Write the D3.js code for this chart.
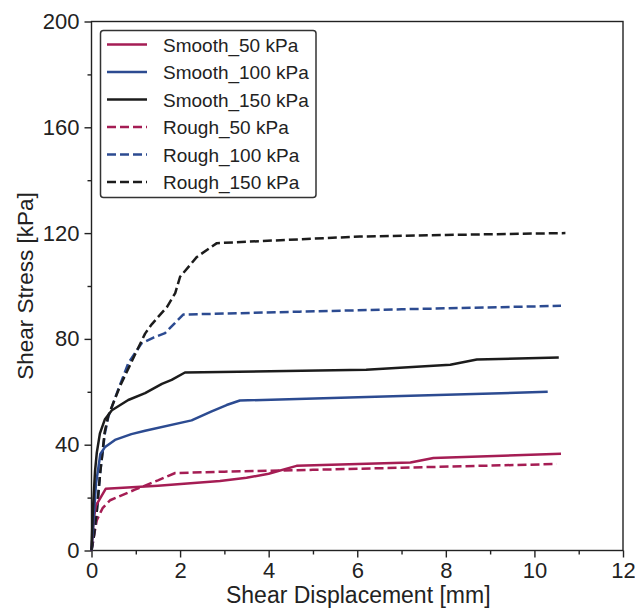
<!DOCTYPE html>
<html>
<head>
<meta charset="utf-8">
<script src="https://cdn.jsdelivr.net/npm/d3@7"></script>
<style>
  html, body { margin: 0; padding: 0; background: #fff; }
  svg { display: block; font-family: "Liberation Sans", Arial, sans-serif; }
</style>
</head>
<body>
<svg id="chart" width="635" height="612"></svg>
<script>
// ---- data ----
const seriesNames = ["Smooth_50 kPa", "Smooth_100 kPa", "Smooth_150 kPa", "Rough_50 kPa", "Rough_100 kPa", "Rough_150 kPa"];

const smooth50 = [[0,0],[0.05,12],[0.1,17],[0.32,23.3],[1.5,24.5],[2.9,26.3],[3.5,27.5],[4,29],[4.63,32],[7.2,33.3],[7.72,35],[10.6,36.6]];
const smooth100 = [[0,0],[0.04,10],[0.1,25],[0.2,36.5],[0.3,39],[0.53,41.8],[0.9,44],[1.21,45.3],[2.26,49.2],[2.7,52.5],[3.05,55],[3.35,56.7],[7,58.4],[10.3,60]];
const smooth150 = [[0,0],[0.03,15],[0.08,30],[0.12,37],[0.19,44.3],[0.3,49.5],[0.46,53],[0.83,56.9],[1.21,59.5],[1.59,63],[1.81,64.5],[2.11,67.3],[6.2,68.3],[8.1,70.2],[8.7,72.2],[10.55,73]];
const rough50 = [[0,0],[0.05,5],[0.12,11.5],[0.25,16],[0.42,19],[0.98,23],[1.5,26.5],[1.89,29.3],[3,29.8],[5,30.5],[7,31.3],[10.5,32.7]];
const rough100 = [[0,0],[0.05,5],[0.12,15],[0.2,30],[0.3,44],[0.38,50.6],[0.6,60.7],[0.83,70.8],[1.13,78.3],[1.4,80.5],[1.66,82.2],[2.07,89.2],[4.7,90.3],[7,91.2],[10.6,92.5]];
const rough150 = [[0,0],[0.05,5],[0.12,15],[0.2,30],[0.3,45],[0.38,51],[0.64,62],[0.98,74],[1.21,82],[1.36,85.5],[1.51,88.4],[1.71,92.2],[1.89,97.3],[2.0,103.5],[2.38,111],[2.83,116.2],[6.06,118.7],[8,119.3],[10.7,120]];

const xTicks = [0, 2, 4, 6, 8, 10, 12];
const yTicks = [0, 40, 80, 120, 160, 200];
const xMinor = [1, 3, 5, 7, 9, 11];
const yMinor = [20, 60, 100, 140, 180];

const xLabel = "Shear Displacement [mm]";
const yLabel = "Shear Stress [kPa]";

// ---- styles ----
const crimson = "#a51d54", blue = "#2c4b91", black = "#1c1c1c";
const series = [
  { name: seriesNames[0], data: smooth50, color: crimson, dash: null },
  { name: seriesNames[1], data: smooth100, color: blue, dash: null },
  { name: seriesNames[2], data: smooth150, color: black, dash: null },
  { name: seriesNames[3], data: rough50, color: crimson, dash: "9,4" },
  { name: seriesNames[4], data: rough100, color: blue, dash: "9,4" },
  { name: seriesNames[5], data: rough150, color: black, dash: "9,4" }
];

const svg = d3.select("#chart");
const L = 91.5, R = 623, T = 21.5, B = 550.5;
const x = d3.scaleLinear().domain([0, 12]).range([L, R]);
const y = d3.scaleLinear().domain([0, 200]).range([B, T]);

// frame
svg.append("rect").attr("x", L).attr("y", T).attr("width", R - L).attr("height", B - T)
  .attr("fill", "none").attr("stroke", "#222").attr("stroke-width", 1.4);

// axes
const xAxis = svg.append("g").attr("transform", `translate(0,${B})`)
  .call(d3.axisBottom(x).tickValues(xTicks).tickSize(7).tickPadding(5).tickFormat(d3.format("d")));
const xAxisMinor = svg.append("g").attr("transform", `translate(0,${B})`)
  .call(d3.axisBottom(x).tickValues(xMinor).tickSize(4).tickFormat(""));
const yAxis = svg.append("g").attr("transform", `translate(${L},0)`)
  .call(d3.axisLeft(y).tickValues(yTicks).tickSize(7).tickPadding(5).tickFormat(d3.format("d")));
const yAxisMinor = svg.append("g").attr("transform", `translate(${L},0)`)
  .call(d3.axisLeft(y).tickValues(yMinor).tickSize(4).tickFormat(""));
[xAxis, xAxisMinor, yAxis, yAxisMinor].forEach(g => {
  g.select(".domain").remove();
  g.selectAll(".tick line").attr("stroke", "#222").attr("stroke-width", 1.4);
  g.selectAll(".tick text").attr("fill", "#222").style("font-size", "22px")
    .style("font-family", "'Liberation Sans', Arial, sans-serif");
});

// axis titles
svg.append("text").attr("x", (L + R) / 2 + 1).attr("y", 603).attr("text-anchor", "middle")
  .style("font-size", "23px").attr("fill", "#222").text(xLabel);
svg.append("text").attr("transform", `translate(33,${(T + B) / 2}) rotate(-90)`)
  .attr("text-anchor", "middle").style("font-size", "22.5px").attr("fill", "#222").text(yLabel);

// lines
const line = d3.line().x(d => x(d[0])).y(d => y(d[1]));
const order = [3, 4, 5, 0, 1, 2];
order.forEach(i => {
  const s = series[i];
  svg.append("path").datum(s.data).attr("d", line)
    .attr("fill", "none").attr("stroke", s.color).attr("stroke-width", 2.5)
    .attr("stroke-linejoin", "round")
    .attr("stroke-dasharray", s.dash);
});

// legend
const lg = svg.append("g");
lg.append("rect").attr("x", 100.5).attr("y", 30.5).attr("width", 215.5).attr("height", 167)
  .attr("rx", 3).attr("fill", "#fff").attr("stroke", "#333").attr("stroke-width", 1.5);
series.forEach((s, i) => {
  const cy = 44.5 + i * 27.5;
  lg.append("line").attr("x1", 107).attr("x2", 147).attr("y1", cy).attr("y2", cy)
    .attr("stroke", s.color).attr("stroke-width", 2.5).attr("stroke-dasharray", s.dash);
  lg.append("text").attr("x", 163).attr("y", cy + 7).style("font-size", "19px")
    .attr("fill", "#222").text(s.name);
});
</script>
</body>
</html>
